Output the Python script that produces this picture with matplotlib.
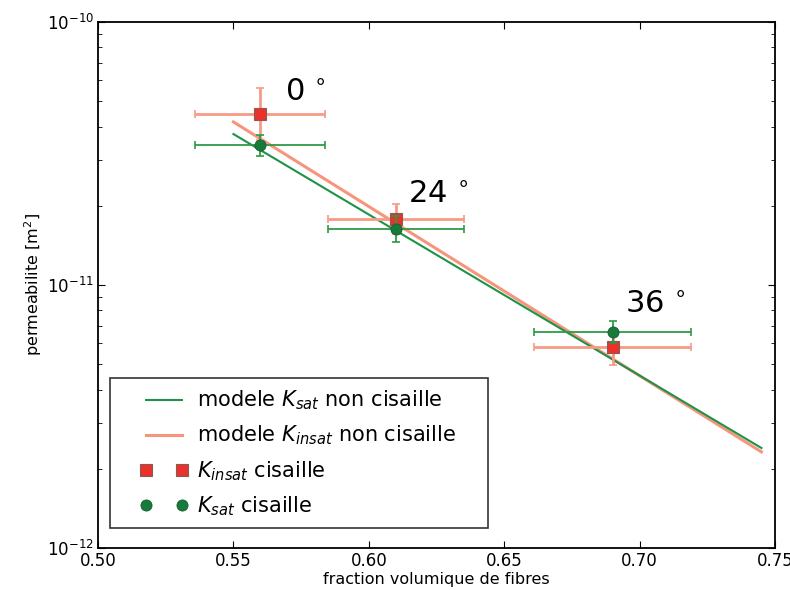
import matplotlib
matplotlib.use("Agg")
import matplotlib.pyplot as plt
from matplotlib.lines import Line2D
from matplotlib.legend_handler import HandlerLine2D
from matplotlib.ticker import LogLocator, FixedLocator

# Measured fibre volume fractions (sheared samples) and their uncertainties
vf = [0.56, 0.61, 0.69]
vf_err = [0.024, 0.025, 0.029]
angles = ["0", "24", "36"]

# Unsaturated permeability (m^2) with lower/upper bounds
k_insat = [4.47e-11, 1.78e-11, 5.81e-12]
k_insat_low = [3.56e-11, 1.56e-11, 4.97e-12]
k_insat_high = [5.61e-11, 2.03e-11, 6.81e-12]

# Saturated permeability (m^2) with lower/upper bounds
k_sat = [3.40e-11, 1.63e-11, 6.62e-12]
k_sat_low = [3.09e-11, 1.46e-11, 6.01e-12]
k_sat_high = [3.72e-11, 1.83e-11, 7.30e-12]

# Non-sheared model curves (straight lines on the log axis)
model_vf = [0.55, 0.745]
model_k_sat = [3.75e-11, 2.40e-12]
model_k_insat = [4.17e-11, 2.32e-12]

RED_LINE = "#f58a6e"
RED_MARK = "#e8322b"
GREEN_LINE = "#1d9248"
GREEN_MARK = "#157a3a"


class IndentedLineHandler(HandlerLine2D):
    """Legend handle drawn in the right part of its box (left indent)."""

    def __init__(self, indent=1.2, **kw):
        super().__init__(**kw)
        self.indent = indent

    def create_artists(self, legend, orig_handle, xdescent, ydescent,
                       width, height, fontsize, trans):
        shift = self.indent * fontsize
        return super().create_artists(legend, orig_handle, xdescent - shift,
                                      ydescent, width - shift, height,
                                      fontsize, trans)


fig = plt.figure(figsize=(7.9, 5.9), dpi=100)
ax = fig.add_axes([98 / 790, 1 - 548 / 590, 677 / 790, 526 / 590])

ax.plot(model_vf, model_k_sat, color=GREEN_LINE, lw=1.5,
        label=r"modele $K_{sat}$ non cisaille", zorder=3)
ax.plot(model_vf, model_k_insat, color=RED_LINE, lw=2.2, alpha=0.9,
        label=r"modele $K_{insat}$ non cisaille    ", zorder=2)

yerr_insat = [[k - lo for k, lo in zip(k_insat, k_insat_low)],
              [hi - k for k, hi in zip(k_insat, k_insat_high)]]
yerr_sat = [[k - lo for k, lo in zip(k_sat, k_sat_low)],
            [hi - k for k, hi in zip(k_sat, k_sat_high)]]

ax.errorbar(vf, k_insat, xerr=vf_err, yerr=yerr_insat, fmt="none",
            ecolor="#f69a86", elinewidth=2.0, capsize=3, capthick=1.2,
            zorder=4)
ax.plot(vf, k_insat, "s", color=RED_MARK, markersize=8,
        markeredgecolor="#8a5a55", markeredgewidth=0.8,
        label=r"$K_{insat}$ cisaille", zorder=4)
ax.errorbar(vf, k_sat, xerr=vf_err, yerr=yerr_sat, fmt="none",
            ecolor="#2f9a45", elinewidth=1.3, capsize=3, capthick=1.2,
            zorder=5)
ax.plot(vf, k_sat, "o", color=GREEN_MARK, markersize=8,
        markeredgecolor="#1f5a30", markeredgewidth=0.6,
        label=r"$K_{sat}$ cisaille", zorder=5)

# Shear angle annotations
label_pos = [(0.569, 5.4e-11), (0.6145, 2.2e-11), (0.6946, 8.45e-12)]
for (lx, ly), a in zip(label_pos, angles):
    ax.text(lx, ly, a + r"$\,^\circ$", fontsize=22, ha="left", va="center",
            zorder=6)

ax.set_yscale("log")
ax.set_xlim(0.50, 0.75)
ax.set_ylim(1e-12, 1e-10)
ax.xaxis.set_major_locator(FixedLocator([0.50, 0.55, 0.60, 0.65, 0.70, 0.75]))
ax.set_xticklabels(["0.50", "0.55", "0.60", "0.65", "0.70", "0.75"])
ax.yaxis.set_major_locator(LogLocator(base=10, numticks=5))
ax.yaxis.set_minor_locator(LogLocator(base=10, subs=range(2, 10), numticks=20))
ax.tick_params(which="both", direction="in", top=True, right=True)
ax.tick_params(which="major", length=5, labelsize=12, pad=3)
ax.tick_params(which="minor", length=3)
for s in ax.spines.values():
    s.set_linewidth(1.3)

ax.set_xlabel("fraction volumique de fibres", fontsize=11.5, labelpad=1)
ax.set_ylabel(r"permeabilite [m$^2$]", fontsize=11.5, labelpad=2)

leg = ax.legend(loc="lower left", numpoints=2, fontsize=15,
                frameon=True, fancybox=False, borderpad=0.5,
                labelspacing=0.55, handlelength=3.0, handletextpad=0.7,
                borderaxespad=0, bbox_to_anchor=(0.0177, 0.038),
                handler_map={Line2D: IndentedLineHandler(indent=1.2,
                                                         marker_pad=0.05)})
leg.get_frame().set_edgecolor("black")
leg.get_frame().set_linewidth(1.2)

fig.savefig("out.png", dpi=100)
